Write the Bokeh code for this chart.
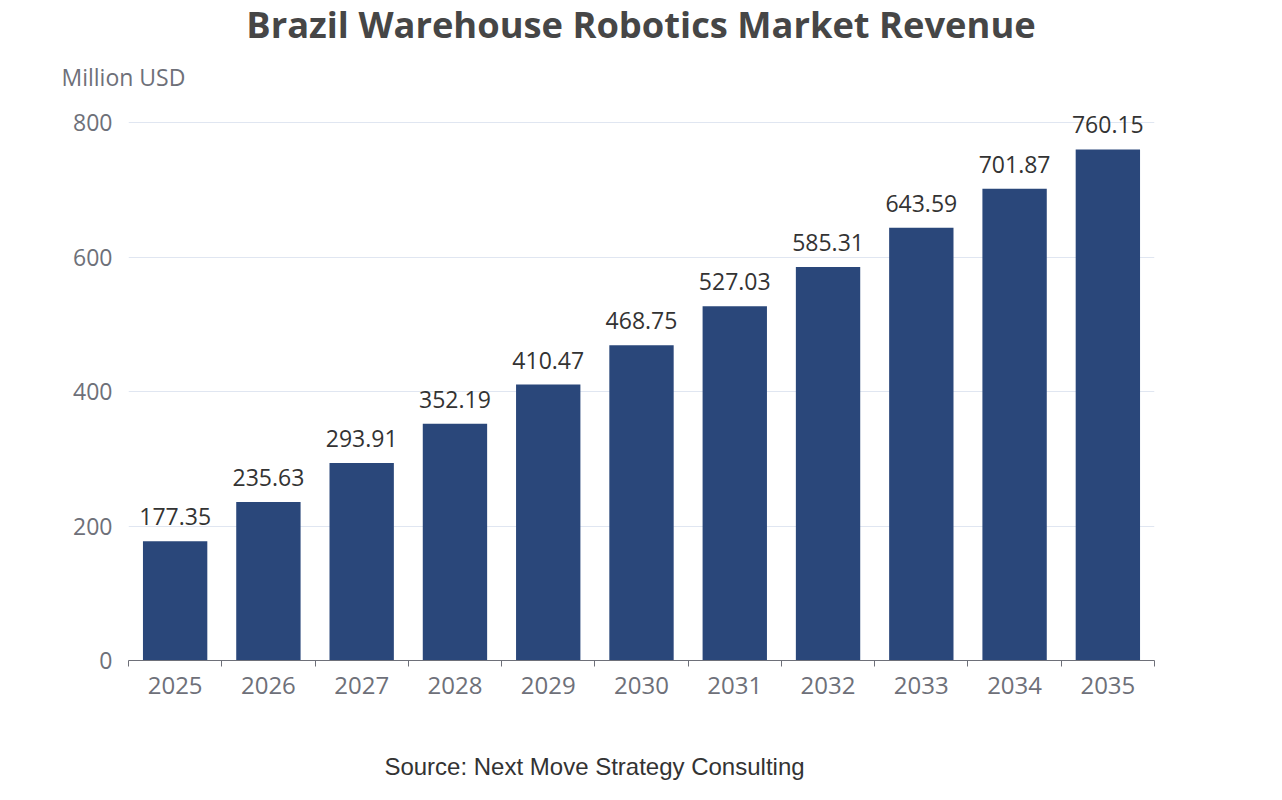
from bokeh.plotting import figure
from bokeh.models import (ColumnDataSource, Range1d, FixedTicker, LabelSet, Title, Div)
from bokeh.layouts import column
from bokeh.core.properties import value
from bokeh.embed import file_html
from bokeh.resources import INLINE

years = ["2025", "2026", "2027", "2028", "2029", "2030", "2031", "2032", "2033", "2034", "2035"]
revenue = [177.35, 235.63, 293.91, 352.19, 410.47, 468.75, 527.03, 585.31, 643.59, 701.87, 760.15]
y_ticks = [0, 200, 400, 600, 800]

title_text = "Brazil Warehouse Robotics Market Revenue"
y_label = "Million USD"
source_text = "Source: Next Move Strategy Consulting"

FONT = "Open Sans"
AXIS_C = "#6E7079"
BAR_C = "#2A477A"

n = len(years)
centers = [i + 0.5 for i in range(n)]
src = ColumnDataSource(dict(x=centers, top=revenue, lab=[f"{v:.2f}" for v in revenue]))

title_div = Div(text=title_text, width=1282, height=49, margin=0,
                styles={"font-family": "'Open Sans', sans-serif", "font-size": "36.3px",
                        "font-weight": "bold", "line-height": "48px", "color": "#464646",
                        "text-align": "center"})

W, H = 1274, 702
p = figure(width=W, height=H, output_backend="svg", toolbar_location=None,
           x_range=Range1d(0, n), y_range=Range1d(0, 830),
           min_border_left=128, min_border_right=120, min_border_top=52,
           min_border_bottom=91)
p.outline_line_color = None
p.background_fill_color = "white"

ytitle = Title(text=y_label, align="left", offset=-67, text_font=FONT,
               text_font_size="23px", text_font_style="normal", text_color=AXIS_C,
               standoff=19)
p.add_layout(ytitle, "above")

p.vbar(x="x", top="top", width=0.69, bottom=0, source=src, fill_color=BAR_C, line_color=None)

labels = LabelSet(x="x", y="top", text="lab", source=src, text_align="center",
                  text_baseline="bottom", y_offset=16, text_font=value(FONT),
                  text_font_size=value("23px"), text_color="#333333")
p.add_layout(labels)

# x axis
p.xaxis.ticker = FixedTicker(ticks=centers, minor_ticks=list(range(n + 1)))
p.xaxis.major_label_overrides = {c: y for c, y in zip(centers, years)}
p.xaxis.major_tick_line_color = None
p.xaxis.major_tick_out = 0
p.xaxis.major_tick_in = 0
p.xaxis.minor_tick_line_color = AXIS_C
p.xaxis.minor_tick_out = 6
p.xaxis.minor_tick_in = 0
p.xaxis.axis_line_color = AXIS_C
p.xaxis.major_label_standoff = 10
p.xaxis.major_label_text_font = FONT
p.xaxis.major_label_text_font_size = "24px"
p.xaxis.major_label_text_color = AXIS_C
p.xgrid.grid_line_color = None

# y axis
p.yaxis.ticker = FixedTicker(ticks=y_ticks)
p.yaxis.axis_line_color = None
p.yaxis.major_tick_line_color = None
p.yaxis.minor_tick_line_color = None
p.yaxis.major_tick_out = 0
p.yaxis.major_label_standoff = 16
p.yaxis.major_label_text_font = FONT
p.yaxis.major_label_text_font_size = "23px"
p.yaxis.major_label_text_color = AXIS_C
p.ygrid.grid_line_color = "#E0E6F1"
p.ygrid.grid_line_width = 1

source_div = Div(text=source_text, width=1179, height=30,
                 styles={"font-family": "'Liberation Sans', Arial, sans-serif",
                         "font-size": "24px", "line-height": "28px", "color": "#333333",
                         "text-align": "center", "margin-top": "2px"})

layout = column(title_div, p, source_div, spacing=0)
open("out.html", "w").write(file_html(layout, INLINE))
